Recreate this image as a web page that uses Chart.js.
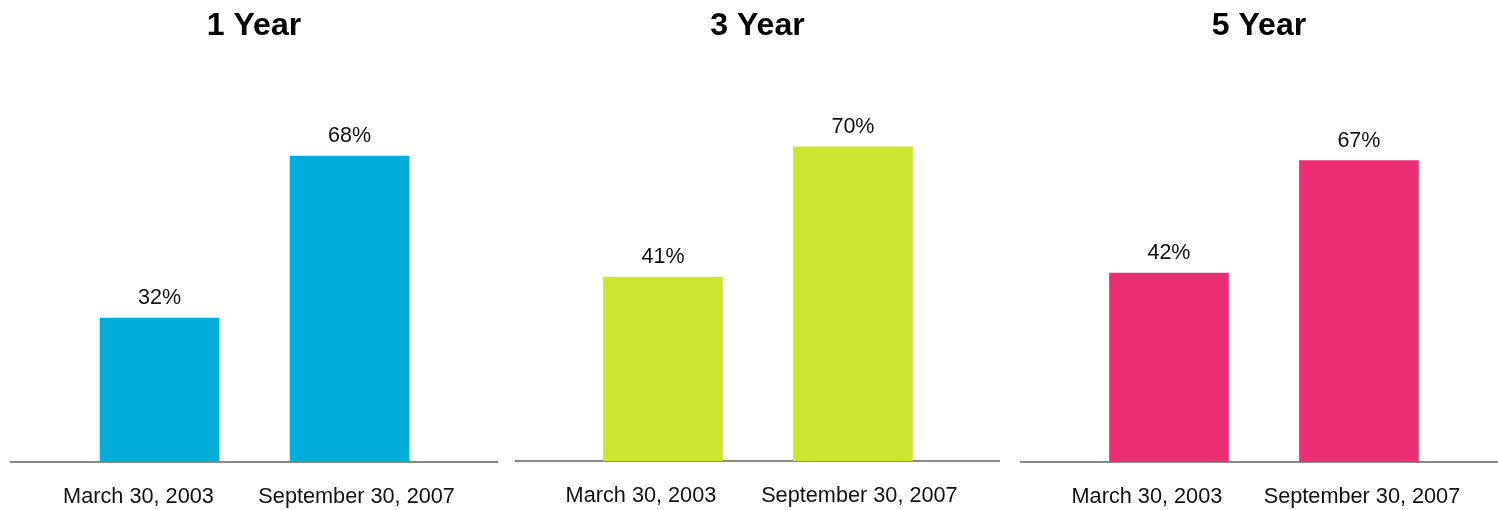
<!DOCTYPE html>
<html>
<head>
<meta charset="utf-8">
<title>Bar charts</title>
<script src="https://cdn.jsdelivr.net/npm/chart.js@4.4.1/dist/chart.umd.min.js"></script>
<style>
  html, body { margin: 0; padding: 0; background: #ffffff; }
  body { width: 1498px; height: 510px; position: relative; overflow: hidden; }
  .panel { position: absolute; top: 0; height: 510px; }
</style>
</head>
<body>
<div class="panel" id="p1" style="left:10px;width:488px"><canvas id="chart1"></canvas></div>
<div class="panel" id="p2" style="left:515px;width:485px"><canvas id="chart2"></canvas></div>
<div class="panel" id="p3" style="left:1020px;width:478px"><canvas id="chart3"></canvas></div>
<script>
// Dates compared in each panel
const dates = ['March 30, 2003', 'September 30, 2007'];

// Panel titles and their values (percent)
const titles = ['1 Year', '3 Year', '5 Year'];
const oneYear = [32, 68];
const threeYear = [41, 70];
const fiveYear = [42, 67];

const FONT = '"Liberation Sans", Arial, sans-serif';

// Per-panel look: colour, x range, where the date labels sit, axis band height
const panels = [
    { id: 'chart1', title: titles[0], values: oneYear,   color: '#00ADD9',
      xmin: -0.787, xmax: 1.781, tickAt: [-0.111, 1.037], axisH: 48 },
    { id: 'chart2', title: titles[1], values: threeYear, color: '#CDE530',
      xmin: -0.779, xmax: 1.774, tickAt: [-0.116, 1.034], axisH: 49 },
    { id: 'chart3', title: titles[2], values: fiveYear,  color: '#EC2E74',
      xmin: -0.784, xmax: 1.732, tickAt: [-0.116, 1.016], axisH: 48 }
];

// Writes "NN%" above each bar
const valueLabels = {
    id: 'valueLabels',
    afterDatasetsDraw(chart) {
        const ctx = chart.ctx;
        const meta = chart.getDatasetMeta(0);
        ctx.save();
        ctx.font = '21.5px ' + FONT;
        ctx.fillStyle = '#111111';
        ctx.textAlign = 'center';
        ctx.textBaseline = 'alphabetic';
        meta.data.forEach((bar, i) => {
            const v = chart.data.datasets[0].data[i].y;
            ctx.fillText(v + '%', bar.x, bar.y - 14);
        });
        ctx.restore();
    }
};

function createChart(p) {
    const ctx = document.getElementById(p.id).getContext('2d');
    return new Chart(ctx, {
        type: 'bar',
        data: {
            datasets: [{
                data: p.values.map((v, i) => ({ x: i, y: v })),
                backgroundColor: p.color,
                borderWidth: 0,
                barThickness: 119
            }]
        },
        options: {
            responsive: true,
            maintainAspectRatio: false,
            animation: false,
            plugins: {
                legend: { display: false },
                tooltip: { enabled: false },
                title: {
                    display: true,
                    text: p.title,
                    color: '#000000',
                    font: { family: FONT, size: 32, weight: 'bold' },
                    padding: { top: 7, bottom: 40 }
                }
            },
            scales: {
                x: {
                    type: 'linear',
                    offset: false,
                    min: p.xmin,
                    max: p.xmax,
                    afterBuildTicks: scale => {
                        scale.ticks = p.tickAt.map(v => ({ value: v }));
                    },
                    afterFit: scale => { scale.height = p.axisH; },
                    grid: { display: false, drawTicks: false, offset: false },
                    border: { display: true, color: '#8a8a8a', width: 2 },
                    ticks: {
                        color: '#111111',
                        font: { family: FONT, size: 21.7 },
                        padding: 22,
                        maxRotation: 0,
                        autoSkip: false,
                        callback: (v, i) => dates[i]
                    }
                },
                y: {
                    display: false,
                    min: 0,
                    max: 83.7
                }
            }
        },
        plugins: [valueLabels]
    });
}

panels.forEach(createChart);
</script>
</body>
</html>
